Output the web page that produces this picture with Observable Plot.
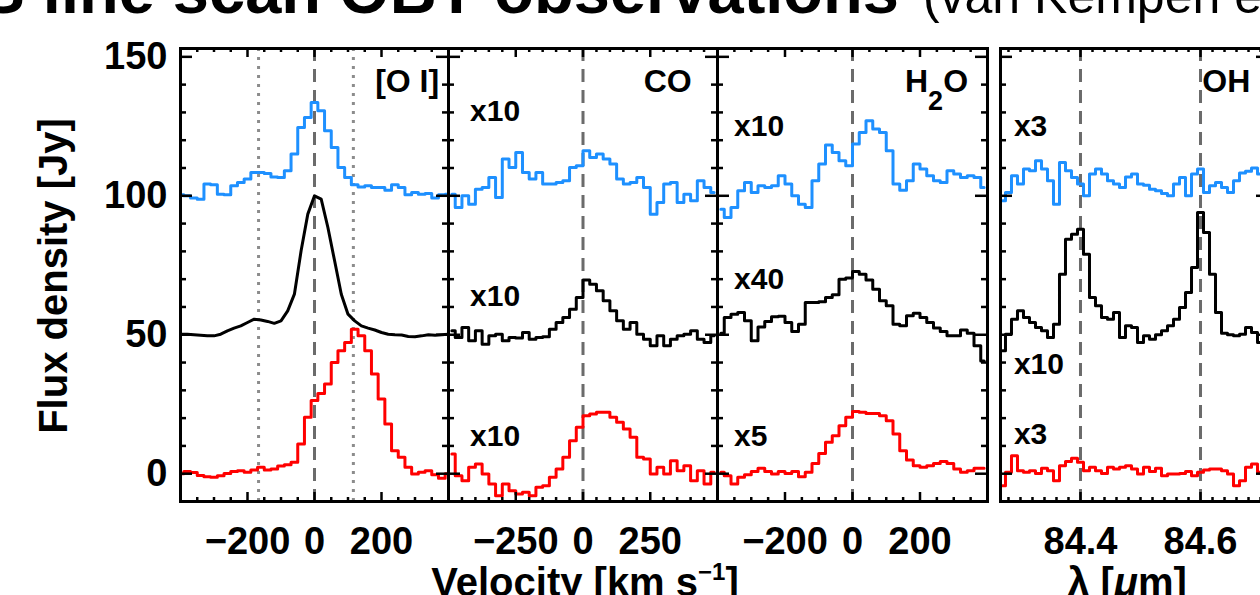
<!DOCTYPE html>
<html>
<head>
<meta charset="utf-8">
<script src="https://cdn.jsdelivr.net/npm/d3@7"></script>
<script src="https://cdn.jsdelivr.net/npm/@observablehq/plot@0.6"></script>
<style>
  html, body { margin: 0; padding: 0; background: #fff; overflow: hidden; }
  #fig { position: relative; width: 1260px; height: 595px; overflow: hidden; background: #fff;
         font-family: "Liberation Sans", Arial, Helvetica, sans-serif; }
  #fig > svg.panel { position: absolute; top: 0; }
  #overlay { position: absolute; left: 0; top: 0; pointer-events: none; }
</style>
</head>
<body>
<div id="fig"></div>
<script>
// ---------- spectra (flux density in Jy, offset: blue +100, black +50, red 0) ----------
const seriesColors = ["#1e90ff", "#000000", "#ff0000"];

// [O I] 63 µm, velocity grid in km/s
const oiVel = d3.range(-400, 401, 20);
const oiBlue = [100.4, 100.0, 99.2, 98.8, 104.2, 104.0, 100.6, 100.4, 103.6, 104.8, 106.0, 108.4, 108.4, 108.0,
  106.8, 106.6, 109.0, 115.0, 124.6, 128.2, 133.6, 130.6, 123.4, 117.4, 110.2, 106.6, 104.0, 103.2, 103.6, 103.0,
  103.0, 102.0, 104.0, 103.0, 100.4, 101.2, 100.6, 100.8, 99.2, 100.4, 100.6];
const oiBlack = [50.2, 50.2, 50.0, 49.8, 49.6, 49.6, 50.2, 51.4, 52.4, 53.2, 54.4, 55.6, 55.3, 54.8, 54.1, 55.0,
  58.6, 64.6, 80.2, 93.4, 100.0, 98.8, 88.6, 76.6, 64.6, 57.4, 55.0, 53.2, 52.4, 51.7, 50.8, 50.2, 50.0, 49.9,
  49.4, 49.3, 49.6, 50.0, 49.8, 50.0, 50.2];
const oiRed = [0.0, 0.8, 0.4, -0.6, -1.1, -1.3, -0.7, 0.1, 0.8, 1.1, 0.5, 1.3, 2.3, 1.3, 1.7, 2.8, 3.2, 4.1,
  10.7, 20.3, 26.3, 28.9, 32.3, 40.0, 44.2, 47.2, 52.0, 49.6, 44.2, 35.9, 26.9, 17.9, 8.3, 5.9, 2.3, -0.1, 0.5,
  1.1, -0.4, -1.6, 0.0];
const oiDotted = [-167, 116];

// CO, velocity bins of 25 km/s
const coVel = d3.range(-487.5, 500, 25);
const coBlue = [100.6, 95.8, 100.0, 97.0, 102.4, 103.0, 106.6, 99.4, 113.2, 110.2, 115.6, 108.4, 106.0, 108.4,
  104.2, 104.2, 104.8, 105.4, 110.2, 110.8, 116.2, 113.8, 115.0, 113.2, 111.4, 106.0, 104.2, 104.8, 106.6, 103.0,
  93.4, 97.6, 104.2, 104.8, 97.6, 100.6, 98.2, 105.4, 103.0, 101.2];
const coBlack = [51.4, 49.0, 52.6, 47.8, 51.4, 46.6, 49.6, 50.2, 47.8, 49.0, 48.8, 50.8, 48.4, 49.0, 49.3, 52.0,
  54.4, 56.2, 59.2, 63.4, 69.7, 68.2, 65.8, 62.2, 58.6, 55.0, 52.0, 54.4, 50.2, 48.4, 46.0, 49.6, 46.0, 48.4,
  49.6, 50.2, 51.4, 48.4, 47.2, 49.6];
const coRed = [7.1, -0.7, -2.5, 2.3, 3.5, -0.1, -3.7, -7.9, -3.7, -6.1, -7.3, -6.7, -7.9, -4.9, -4.3, -1.3, 1.7,
  5.9, 11.9, 16.7, 20.9, 21.5, 22.1, 22.1, 20.3, 18.5, 16.1, 13.1, 5.9, 5.3, -0.1, 2.3, -0.1, 4.7, 1.1, 2.9, -2.5,
  1.1, -3.7, 0.5];
const coFactors = ["x10", "x10", "x10"];

// H2O, velocity bins of 20 km/s
const h2oVel = d3.range(-390, 400, 20);
const h2oBlue = [95.2, 92.2, 95.8, 101.8, 104.8, 101.2, 103.6, 103.0, 103.6, 107.2, 104.2, 100.0, 97.0, 95.8,
  105.4, 111.4, 118.3, 115.6, 112.6, 110.8, 118.6, 122.8, 127.0, 124.0, 122.8, 116.2, 104.2, 102.0, 105.4, 111.4,
  109.6, 107.2, 105.4, 104.8, 109.0, 107.8, 106.6, 107.2, 106.6, 103.0];
const h2oBlack = [50.5, 56.2, 57.4, 58.0, 55.0, 47.8, 52.8, 54.8, 56.5, 56.7, 54.4, 51.2, 53.8, 61.6, 61.6, 61.9,
  63.4, 64.4, 70.0, 70.4, 72.8, 71.8, 69.7, 66.4, 62.2, 60.4, 53.8, 53.2, 56.8, 57.7, 56.2, 54.4, 52.4, 51.2,
  49.6, 49.6, 51.7, 50.5, 46.0, 40.6];
const h2oRed = [0.5, -0.7, -3.7, -1.3, -0.4, 0.8, 2.0, 0.8, -0.1, 0.8, 0.1, 0.8, -1.1, 0.5, 3.7, 7.3, 11.3, 13.7,
  17.3, 20.3, 22.4, 22.1, 21.7, 21.7, 20.9, 19.1, 14.3, 8.3, 4.9, 2.9, 2.3, 2.9, 3.7, 4.4, 3.7, 1.7, 0.5, 1.1,
  2.0, 2.0];
const h2oFactors = ["x10", "x40", "x5"];

// OH 84 µm doublet, wavelength grid in µm
const ohWave = d3.range(44).map(i => +(84.27 + i * 0.01).toFixed(2));
const ohBlue = [98.2, 101.2, 107.2, 104.2, 109.6, 109.0, 112.6, 109.6, 105.4, 97.0, 112.0, 109.0, 106.6, 104.2,
  100.0, 107.8, 109.6, 107.8, 105.4, 104.2, 103.0, 106.8, 107.8, 104.2, 103.8, 102.4, 101.8, 100.8, 100.0, 104.2,
  106.6, 100.0, 107.8, 109.6, 101.2, 103.6, 104.8, 103.0, 101.2, 105.4, 108.2, 108.8, 110.0, 107.8];
const ohBlack = [44.2, 50.2, 55.6, 58.6, 56.2, 54.4, 52.6, 51.4, 49.0, 53.8, 71.8, 84.4, 86.2, 88.0, 79.0, 63.4,
  60.4, 56.2, 55.6, 58.0, 49.0, 53.2, 52.6, 47.2, 49.6, 48.4, 50.0, 51.4, 53.2, 55.6, 59.8, 65.2, 74.2, 94.0,
  86.8, 71.8, 58.0, 50.5, 50.0, 49.6, 50.2, 52.6, 50.8, 47.2];
const ohRed = [-4.3, 0.5, 6.5, 1.1, 0.5, 1.1, 0.1, 2.0, 1.1, -2.5, 2.9, 4.4, 5.6, 4.1, 1.1, 2.3, 1.1, 0.1, 2.3,
  1.7, 2.3, 2.9, 1.7, -0.1, 2.3, 0.8, 2.0, -0.7, -0.1, -0.1, 0.1, 0.8, -0.7, 0.5, 1.3, 1.7, 1.7, 1.1, -0.1, -4.3,
  -2.5, 2.3, 3.5, 0.5];
const ohLines = [84.4, 84.6];
const ohFactors = ["x3", "x10", "x3"];

// ---------- axes ----------
const yDomain = [-10, 153];
const yMajor = [0, 50, 100, 150];
const yMinor = d3.range(10, 150, 10).filter(v => v % 50 !== 0);

const FRAME_TOP = 48, FRAME_BOTTOM = 501, HEIGHT = 595;
const FONT = "'Liberation Sans', Arial, Helvetica, sans-serif";

const panels = [
  { left: 0, marginLeft: 180, width: 448, domain: [-400, 400], x: oiVel,
    series: [oiBlue, oiBlack, oiRed], curves: ["step", "linear", "step"],
    major: [-200, 0, 200], minorStep: 50, format: d3.format("d"),
    dashed: [0], dotted: oiDotted, yAxis: true,
    name: { text: "[O I]", x: 372, y: 137.2, anchor: "end" } },
  { left: 448, marginLeft: 0, width: 269, domain: [-500, 500], x: coVel,
    series: [coBlue, coBlack, coRed], major: [-250, 0, 250], minorStep: 50, format: d3.format("d"),
    dashed: [0], dotted: [],
    name: { text: "CO", x: 404, y: 137.2, anchor: "end" },
    factors: { labels: coFactors, x: -420, y: [127, 60.4, 10.1] } },
  { left: 717, marginLeft: 0, width: 270, domain: [-400, 400], x: h2oVel,
    series: [h2oBlue, h2oBlack, h2oRed], major: [-200, 0, 200], minorStep: 50, format: d3.format("d"),
    dashed: [0], dotted: [],
    factors: { labels: h2oFactors, x: -351, y: [121.6, 66.4, 10.1] } },
  { left: 1000, marginLeft: 0, width: 268, domain: [84.2667, 84.7133], x: ohWave,
    series: [ohBlue, ohBlack, ohRed], major: [84.4, 84.6], minorStep: 0.02, format: d3.format(".1f"),
    dashed: ohLines, dotted: [],
    name: { text: "OH", x: 84.603, y: 137.2, anchor: "start" },
    factors: { labels: ohFactors, x: 84.289, y: [121.6, 35.9, 10.7] } }
];

function buildPanel(p) {
  const fw = p.width - p.marginLeft;
  const fh = FRAME_BOTTOM - FRAME_TOP;
  const [x0, x1] = p.domain;
  const eps = p.minorStep / 100;
  const minor = d3.range(Math.ceil(x0 / p.minorStep) * p.minorStep, x1, p.minorStep)
    .map(v => +v.toFixed(3))
    .filter(v => v > x0 + eps && v < x1 - eps && !p.major.some(m => Math.abs(m - v) < eps));
  const minusFormat = v => p.format(v).replace("-", "−");

  const marks = [];
  marks.push(Plot.ruleX(p.dotted, { x: d => d, stroke: "#8c8c8c", strokeWidth: 3, strokeDasharray: "3,6" }));
  marks.push(Plot.ruleX(p.dashed, { x: d => d, stroke: "#6b6b6b", strokeWidth: 3, strokeDasharray: "13,8" }));
  p.series.forEach((vals, i) => {
    const data = p.x.map((x, j) => ({ x, y: vals[j] }));
    marks.push(Plot.line(data, { x: "x", y: "y", stroke: seriesColors[i], strokeWidth: 3,
      curve: p.curves ? p.curves[i] : "step", clip: true }));
  });
  if (p.factors) {
    const f = p.factors;
    marks.push(Plot.text(f.labels, { x: () => f.x, y: (d, i) => f.y[i], text: d => d,
      textAnchor: "start", lineAnchor: "bottom", fontSize: 30, fontWeight: "bold", fill: "black" }));
  }
  if (p.name) {
    marks.push(Plot.text([p.name], { x: "x", y: "y", text: "text", textAnchor: p.name.anchor,
      lineAnchor: "bottom", fontSize: 32, fontWeight: "bold", fill: "black" }));
  }
  // inward ticks on all four sides
  const tk = { stroke: "black", strokeWidth: 2.5 };
  marks.push(Plot.tickY(yMajor, { y: d => d, insetRight: fw - 12, ...tk }));
  marks.push(Plot.tickY(yMajor, { y: d => d, insetLeft: fw - 12, ...tk }));
  marks.push(Plot.tickY(yMinor, { y: d => d, insetRight: fw - 6, ...tk }));
  marks.push(Plot.tickY(yMinor, { y: d => d, insetLeft: fw - 6, ...tk }));
  marks.push(Plot.tickX(p.major, { x: d => d, insetTop: fh - 9, ...tk }));
  marks.push(Plot.tickX(p.major, { x: d => d, insetBottom: fh - 9, ...tk }));
  marks.push(Plot.tickX(minor, { x: d => d, insetTop: fh - 4, ...tk }));
  marks.push(Plot.tickX(minor, { x: d => d, insetBottom: fh - 4, ...tk }));
  marks.push(Plot.frame({ stroke: "black", strokeWidth: 3 }));
  marks.push(Plot.axisX({ ticks: p.major, tickFormat: minusFormat, tickSize: 0, tickPadding: 26,
    fontSize: 38, fontWeight: "bold", label: null }));
  if (p.yAxis) {
    marks.push(Plot.axisY({ ticks: yMajor, tickSize: 0, tickPadding: 13, fontSize: 38,
      fontWeight: "bold", label: null }));
  }

  const svg = Plot.plot({
    width: p.width,
    height: HEIGHT,
    marginTop: FRAME_TOP,
    marginBottom: HEIGHT - FRAME_BOTTOM,
    marginLeft: p.marginLeft,
    marginRight: 0,
    x: { domain: p.domain },
    y: { domain: yDomain, axis: p.yAxis ? undefined : null },
    style: { fontFamily: FONT, overflow: "visible", background: "transparent" },
    marks
  });
  svg.classList.add("panel");
  svg.style.left = p.left + "px";
  return svg;
}

const fig = document.getElementById("fig");
panels.forEach(p => fig.appendChild(buildPanel(p)));

// ---------- titles and axis labels ----------
const ns = "http://www.w3.org/2000/svg";
const overlay = document.createElementNS(ns, "svg");
overlay.setAttribute("id", "overlay");
overlay.setAttribute("width", 1260);
overlay.setAttribute("height", 595);
overlay.setAttribute("font-family", FONT);
overlay.innerHTML = `
  <text x="-151" y="13" font-size="65" font-weight="bold">PACS line scan OBT observations<tspan
    dx="24" font-size="50" font-weight="normal">(van Kempen et al. 2010)</tspan></text>
  <text transform="translate(67,276) rotate(-90)" text-anchor="middle" font-size="40"
    font-weight="bold">Flux density [Jy]</text>
  <text x="585" y="596" text-anchor="middle" font-size="40" font-weight="bold">Velocity [km s<tspan
    dy="-16" font-size="24">−1</tspan><tspan dy="16">]</tspan></text>
  <text x="1127" y="596" text-anchor="middle" font-size="40" font-weight="bold">λ [<tspan
    font-style="italic">μ</tspan>m]</text>
  <text x="905" y="92" font-size="32" font-weight="bold">H<tspan dy="18" font-size="27">2</tspan><tspan
    dy="-18">O</tspan></text>
`;
fig.appendChild(overlay);
</script>
</body>
</html>
